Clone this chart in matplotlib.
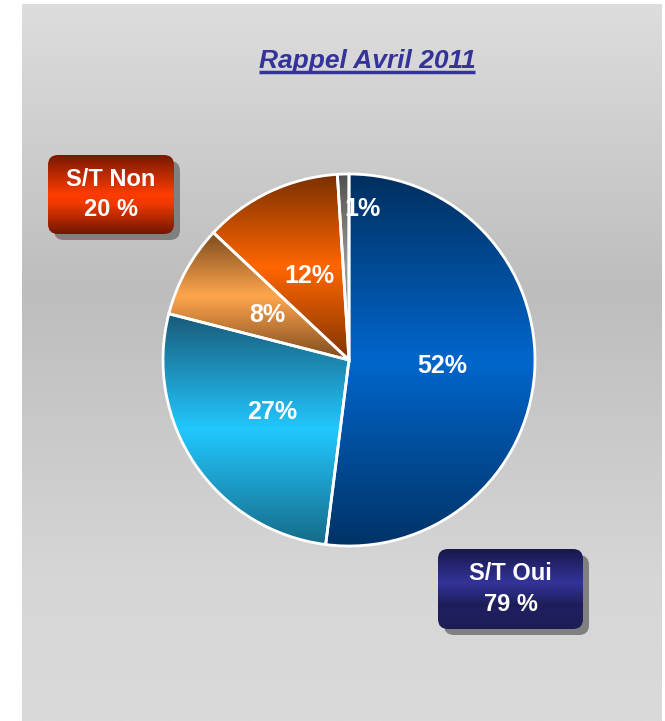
import numpy as np
import matplotlib
matplotlib.use('Agg')
import matplotlib.pyplot as plt
from matplotlib.colors import to_rgb
from matplotlib.patches import FancyBboxPatch, Rectangle

W, H = 665, 721

title = 'Rappel Avril 2011'
slice_labels = ['52%', '27%', '8%', '12%', '1%']
slice_values = [52, 27, 8, 12, 1]
# (top, middle, bottom) colours of each slice's vertical gradient
slice_grads = [
    ('#002f5e', '#0066cc', '#003366'),
    ('#195a78', '#22c8ff', '#166a88'),
    ('#7a4a1c', '#ffa64d', '#7e4a1e'),
    ('#7a3000', '#ff6600', '#803400'),
    ('#505050', '#9a9a9a', '#606060'),
]
label_dist = [0.5, 0.5, 0.5, 0.5, 0.81]

box_texts = ['S/T Non\n20 %', 'S/T Oui\n79 %']


def px(y):
    return H - y


def vgrad(stops, n=256):
    pos = [s[0] for s in stops]
    cols = np.array([to_rgb(s[1]) for s in stops])
    t = np.linspace(0, 1, n)
    arr = np.stack([np.interp(t, pos, cols[:, k]) for k in range(3)], axis=-1)
    return arr[:, None, :]


def fill_gradient(ax, patch, extent, stops, z):
    im = ax.imshow(vgrad(stops), extent=extent, origin='upper',
                   aspect='auto', interpolation='bilinear', zorder=z)
    im.set_clip_path(patch)
    return im


fig = plt.figure(figsize=(W / 100, H / 100), dpi=100)
fig.patch.set_facecolor('white')
ax = fig.add_axes([0, 0, 1, 1])
ax.set_axis_off()

# gray background panel
panel = Rectangle((22, 0), 640, px(4), facecolor='none', edgecolor='none')
ax.add_patch(panel)
fill_gradient(ax, panel, [22, 662, 0, px(4)],
              [(0, '#dddddd'), (0.4, '#bdbdbd'), (0.8, '#d6d6d6'), (1, '#dadada')], 0)

# pie
cx, cy, R = 349, px(360), 186
wedges, _ = ax.pie(slice_values, startangle=90, counterclock=False, radius=R,
                   center=(cx, cy), frame=True,
                   wedgeprops=dict(edgecolor='white', linewidth=2, facecolor='none'))
for w, g, lab, d in zip(wedges, slice_grads, slice_labels, label_dist):
    w.set_zorder(3)
    ext = w.get_path().get_extents()
    fill_gradient(ax, w, [ext.x0, ext.x1, ext.y0, ext.y1],
                  [(0, g[0]), (0.5, g[1]), (1, g[2])], 2)
    mid = np.deg2rad((w.theta1 + w.theta2) / 2)
    ha = 'left' if d > 0.6 else 'center'
    ax.text(cx + d * R * np.cos(mid), cy + d * R * np.sin(mid), lab,
            ha=ha, va='center', color='white', fontsize=18, fontweight='bold',
            family='Liberation Sans', zorder=5)

# label boxes
boxes = [
    (48, 155, 126, 79, [(0, '#781800'), (0.5, '#ff3c00'), (0.62, '#f03800'), (1, '#701600')]),
    (438, 549, 145, 80, [(0, '#18184a'), (0.42, '#33339a'), (0.72, '#1c1c55'),
                          (0.74, '#202060'), (1, '#1c1c55')]),
]
for (x, y, bw, bh, stops), txt in zip(boxes, box_texts):
    shadow = FancyBboxPatch((x + 6, px(y + bh) - 6), bw, bh,
                            boxstyle='round,pad=0,rounding_size=10',
                            facecolor='#808080', edgecolor='none', zorder=6)
    ax.add_patch(shadow)
    box = FancyBboxPatch((x, px(y + bh)), bw, bh,
                         boxstyle='round,pad=0,rounding_size=10',
                         facecolor='none', edgecolor='none', zorder=7)
    ax.add_patch(box)
    fill_gradient(ax, box, [x, x + bw, px(y + bh), px(y)], stops, 7)
    ax.text(x + bw / 2, px(y + bh / 2), txt, ha='center', va='center',
            color='white', fontsize=17, fontweight='bold', linespacing=1.4,
            family='Liberation Sans', zorder=8)

# title with underline
t = ax.text(367, px(61), title, ha='center', va='center', color='#333399',
            fontsize=19, fontweight='bold', fontstyle='italic',
            family='Liberation Sans', zorder=8)

ax.set_xlim(0, W)
ax.set_ylim(0, H)
ax.set_aspect('auto')

fig.canvas.draw()
bb = t.get_window_extent().transformed(ax.transData.inverted())
ax.plot([bb.x0, bb.x1], [bb.y0 + 1, bb.y0 + 1], color='#333399', lw=2.5,
        solid_capstyle='butt', zorder=8)

fig.savefig('out.png', dpi=100)
